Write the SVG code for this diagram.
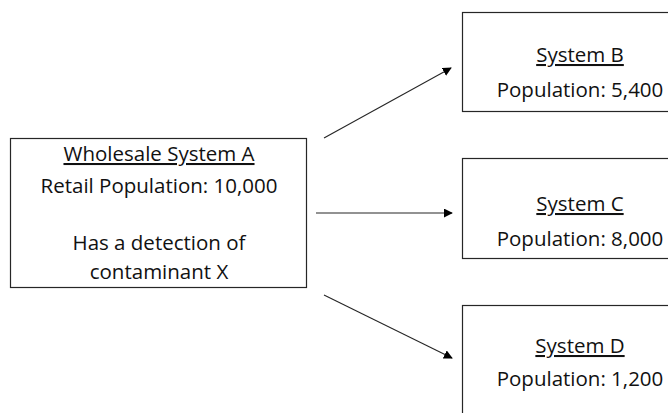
<svg xmlns="http://www.w3.org/2000/svg" width="668" height="413" viewBox="0 0 668 413">
  <style>
    .box { fill: #ffffff; stroke: #262626; stroke-width: 1.2; }
    .t { font-family: "Open Sans", "Liberation Sans", sans-serif; font-size: 20.5px; fill: #111111; text-anchor: middle; }
    .u { text-decoration: underline; }
    .conn { stroke: #262626; stroke-width: 1.1; fill: none; marker-end: url(#arrow); }
  </style>
  <defs>
    <marker id="arrow" viewBox="0 0 10 10" refX="9" refY="5" markerWidth="9" markerHeight="9" markerUnits="userSpaceOnUse" orient="auto">
      <path d="M0,0 L10,5 L0,10 z" fill="#000000"/>
    </marker>
  </defs>
  <rect width="668" height="413" fill="#ffffff"/>

  <g id="node-a">
    <rect class="box" x="10.5" y="138.5" width="296" height="149"/>
    <text class="t u" x="159" y="161">Wholesale System A</text>
    <text class="t" x="159" y="193">Retail Population: 10,000</text>
    <text class="t" x="159" y="250">Has a detection of</text>
    <text class="t" x="159" y="279">contaminant X</text>
  </g>

  <g id="node-b">
    <rect class="box" x="462.5" y="12.5" width="210" height="99"/>
    <text class="t u" x="580" y="62">System B</text>
    <text class="t" x="580" y="97">Population: 5,400</text>
  </g>

  <g id="node-c">
    <rect class="box" x="462.5" y="158.5" width="210" height="100"/>
    <text class="t u" x="580" y="211">System C</text>
    <text class="t" x="580" y="246">Population: 8,000</text>
  </g>

  <g id="node-d">
    <rect class="box" x="462.5" y="305.5" width="210" height="120"/>
    <text class="t u" x="580" y="353">System D</text>
    <text class="t" x="580" y="386">Population: 1,200</text>
  </g>

  <g id="connectors">
    <line class="conn" x1="324" y1="138" x2="451" y2="68"/>
    <line class="conn" x1="316" y1="213" x2="452" y2="213"/>
    <line class="conn" x1="324" y1="295" x2="452" y2="358"/>
  </g>
</svg>
